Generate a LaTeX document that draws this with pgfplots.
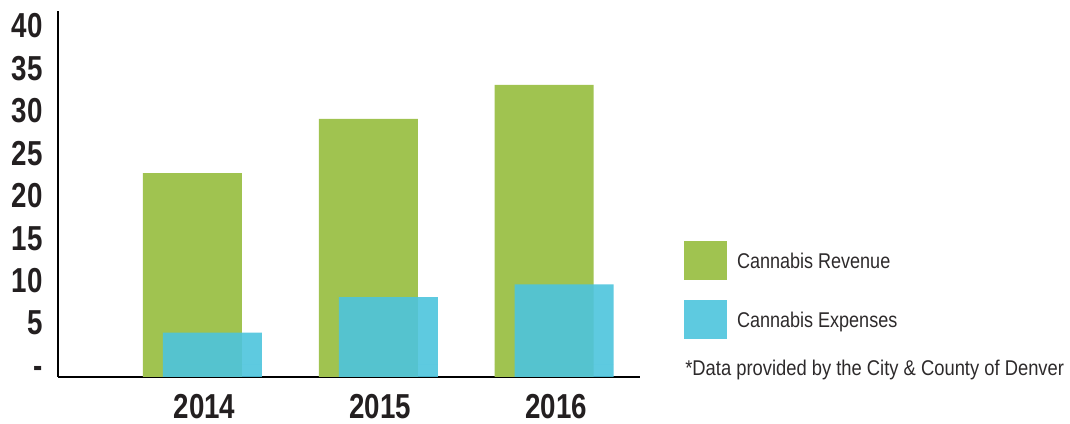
\documentclass[border=0pt]{standalone}
\usepackage{fontspec}
\usepackage{pgfplots}
\pgfplotsset{compat=1.18}
\newfontfamily\tickfont[FakeStretch=0.8]{Liberation Sans}
\newfontfamily\legfont[FakeStretch=0.845]{Liberation Sans}
\newfontfamily\notefont[FakeStretch=0.861]{Liberation Sans}
\definecolor{revgreen}{RGB}{160,195,80}
\definecolor{expblue}{RGB}{77,196,221}
\definecolor{labelc}{RGB}{35,31,32}
\definecolor{legc}{RGB}{45,42,43}
\begin{document}
\begin{tikzpicture}
\useasboundingbox (-43.5pt,-35.25pt) rectangle (759pt,282.75pt);
\begin{axis}[
  at={(0,0)}, anchor=south west, scale only axis,
  width=436.5pt, height=274.5pt,
  xmin=-0.822, xmax=2.489, ymin=-1.4134, ymax=41.696,
  axis lines*=left,
  axis line style={-, line width=1pt, black},
  major tick length=0pt,
  xtick={0,1,2}, xticklabels={2014,2015,2016},
  ytick={0,5,10,15,20,25,30,35,40},
  yticklabels={-,5,10,15,20,25,30,35,40},
  ticklabel style={font=\tickfont\bfseries\fontsize{26}{26}\selectfont, text=labelc, inner sep=0pt, text height=18.6pt, text depth=0pt},
  xticklabel style={anchor=north, yshift=-12pt, xshift=1.5pt},
  yticklabel style={anchor=east, xshift=-11.25pt},
  legend style={at={(axis description cs:1.0756,0.3716)}, anchor=north west,
    draw=none, fill=none, inner sep=0pt, outer sep=0pt,
    row sep=15pt, column sep=0pt,
    font=\legfont\fontsize{16}{16}\selectfont, text=legc,
    nodes={inner sep=0pt, text height=11.5pt, text depth=3.4pt}},
  legend cell align=left,
  legend image code/.code={\fill[#1,draw=none] (0pt,-12.975pt) rectangle (32.25pt,16.275pt); \path (39.75pt,0pt);},
]
% bottoms of the bars down to the axis line (clipped at the axis)
\addplot[ybar, bar width=74.25pt, bar shift=-7.5pt, fill=revgreen, draw=none, forget plot]
  coordinates {(0,-2) (1,-2) (2,-2)};
\addplot[ybar, bar width=74.25pt, bar shift=-7.5pt, fill=revgreen, draw=none]
  coordinates {(0,22.6) (1,29.0) (2,33.0)};
\addlegendentry{Cannabis Revenue}
\addplot[ybar, bar width=74.25pt, bar shift=7.5pt, fill=expblue, fill opacity=0.9, draw=none, forget plot]
  coordinates {(0,-2) (1,-2) (2,-2)};
\addplot[ybar, bar width=74.25pt, bar shift=7.5pt, fill=expblue, fill opacity=0.9, draw=none]
  coordinates {(0,3.8) (1,8.0) (2,9.5)};
\addlegendentry{Cannabis Expenses}
\end{axis}
\node[anchor=base west, inner sep=0pt, text=legc, font=\notefont\fontsize{16}{16}\selectfont] at (470.25pt,1.05pt) {*Data provided by the City \& County of Denver};
\end{tikzpicture}
\end{document}
